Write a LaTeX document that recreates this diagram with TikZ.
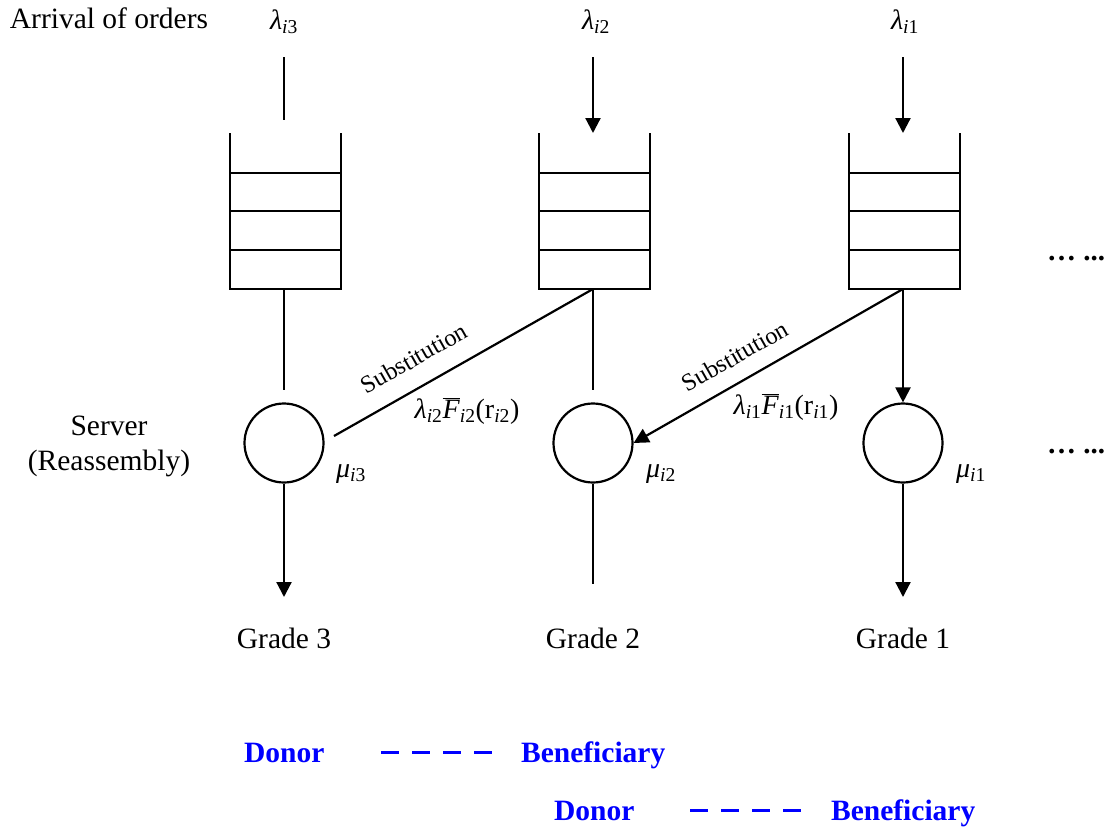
\documentclass[tikz,border=0pt]{standalone}
\usepackage{fontspec}
\setmainfont{Liberation Serif}
\usetikzlibrary{arrows.meta}
\newcommand{\isub}[1]{\textsubscript{\textit{i}#1}}
\newcommand{\lam}[1]{\textit{λ}\isub{#1}}
\newcommand{\lamF}[1]{\textit{λ}\isub{#1}$\overline{\hbox{\textit{F}}}$\isub{#1}(r\isub{#1})}
\begin{document}
\begin{tikzpicture}[x=1pt,y=-1pt,line width=2.2pt,
  arr/.style={-{Triangle[length=15pt,width=15pt]}},
  txt/.style={inner sep=0pt,anchor=base,font=\fontsize{29.5}{34}\selectfont},
  mth/.style={inner sep=0pt,anchor=base,font=\fontsize{28}{32}\selectfont},
  subst/.style={inner sep=0pt,rotate=29.6,font=\fontsize{24.5}{28}\selectfont},
  legend/.style={inner sep=0pt,anchor=base west,text=blue,font=\fontsize{29.5}{34}\selectfont\bfseries},
  dashline/.style={draw=blue,line width=3pt,dash pattern=on 18pt off 13pt},
  server/.style={circle,draw,line width=2.2pt,minimum size=79pt,inner sep=0pt}]
\useasboundingbox (0,0) rectangle (1120,828);
% queues
\foreach \c/\n in {284/3,593/2,903/1}{
  \draw (\c-54,133) -- (\c-54,289) -- (\c+57,289) -- (\c+57,133);
  \foreach \yy in {173,211,250} \draw (\c-54,\yy) -- (\c+57,\yy);
  \coordinate (q\n t) at (\c,133);
  \coordinate (q\n b) at (\c,289);
  \coordinate (a\n) at (\c,57);
}
\coordinate (a3e) at (284,120);
% servers
\node[server] (s3) at (284,443) {};
\node[server] (s2) at (593,443) {};
\node[server] (s1) at (903,443) {};
\coordinate (q3e) at (284,390);
\coordinate (q2e) at (593,390);
\coordinate (sub3) at (334,436);
\coordinate (o3) at (284,597);
\coordinate (o2) at (593,584);
\coordinate (o1) at (903,597);
% arrival
\draw (a3) -- (a3e);
\draw[arr] (a2) -- (q2t);
\draw[arr] (a1) -- (q1t);
% queue to server
\draw (q3b) -- (q3e);
\draw (q2b) -- (q2e);
\draw[arr] (q1b) -- (s1.north);
% substitution
\draw (q2b) -- (sub3);
\draw[arr] (q1b) -- (s2.east);
% outputs
\draw[arr] (s3.south) -- (o3);
\draw (s2.south) -- (o2);
\draw[arr] (s1.south) -- (o1);
% labels
\node[txt] (arrival) at (109,28) {Arrival of orders};
\node[mth] (l3) at (284,29) {\lam{3}};
\node[mth] (l2) at (596,29) {\lam{2}};
\node[mth] (l1) at (905,29) {\lam{1}};
\node[txt] (srv1) at (109,435) {Server};
\node[txt] (srv2) at (109,470) {(Reassembly)};
\node[mth] (m3) at (351,477) {\textit{μ}\isub{3}};
\node[mth] (m2) at (661,477) {\textit{μ}\isub{2}};
\node[mth] (m1) at (971,477) {\textit{μ}\isub{1}};
\node[subst] (sb1) at (414,358) {Substitution};
\node[subst] (sb2) at (735,356) {Substitution};
\node[mth] (f2) at (467,418) {\lamF{2}};
\node[mth] (f1) at (786,414) {\lamF{1}};
\node[txt] (g3) at (284,648) {Grade 3};
\node[txt] (g2) at (593,648) {Grade 2};
\node[txt] (g1) at (903,648) {Grade 1};
\node[inner sep=0pt,anchor=base west,font=\fontsize{29}{32}\selectfont] (d1) at (1046,260) {\textbf{…} \textbf{...}};
\node[inner sep=0pt,anchor=base west,font=\fontsize{29}{32}\selectfont] (d2) at (1046,453) {\textbf{…} \textbf{...}};
% legend
\node[legend] (don1) at (243,762) {Donor};
\node[legend] (ben1) at (520,762) {Beneficiary};
\node[legend] (don2) at (553,820) {Donor};
\node[legend] (ben2) at (830,820) {Beneficiary};
\coordinate (dl1s) at (381,752);
\coordinate (dl1e) at (493,752);
\coordinate (dl2s) at (690,810);
\coordinate (dl2e) at (803,810);
\draw[dashline] (dl1s) -- (dl1e);
\draw[dashline] (dl2s) -- (dl2e);
\end{tikzpicture}
\end{document}
